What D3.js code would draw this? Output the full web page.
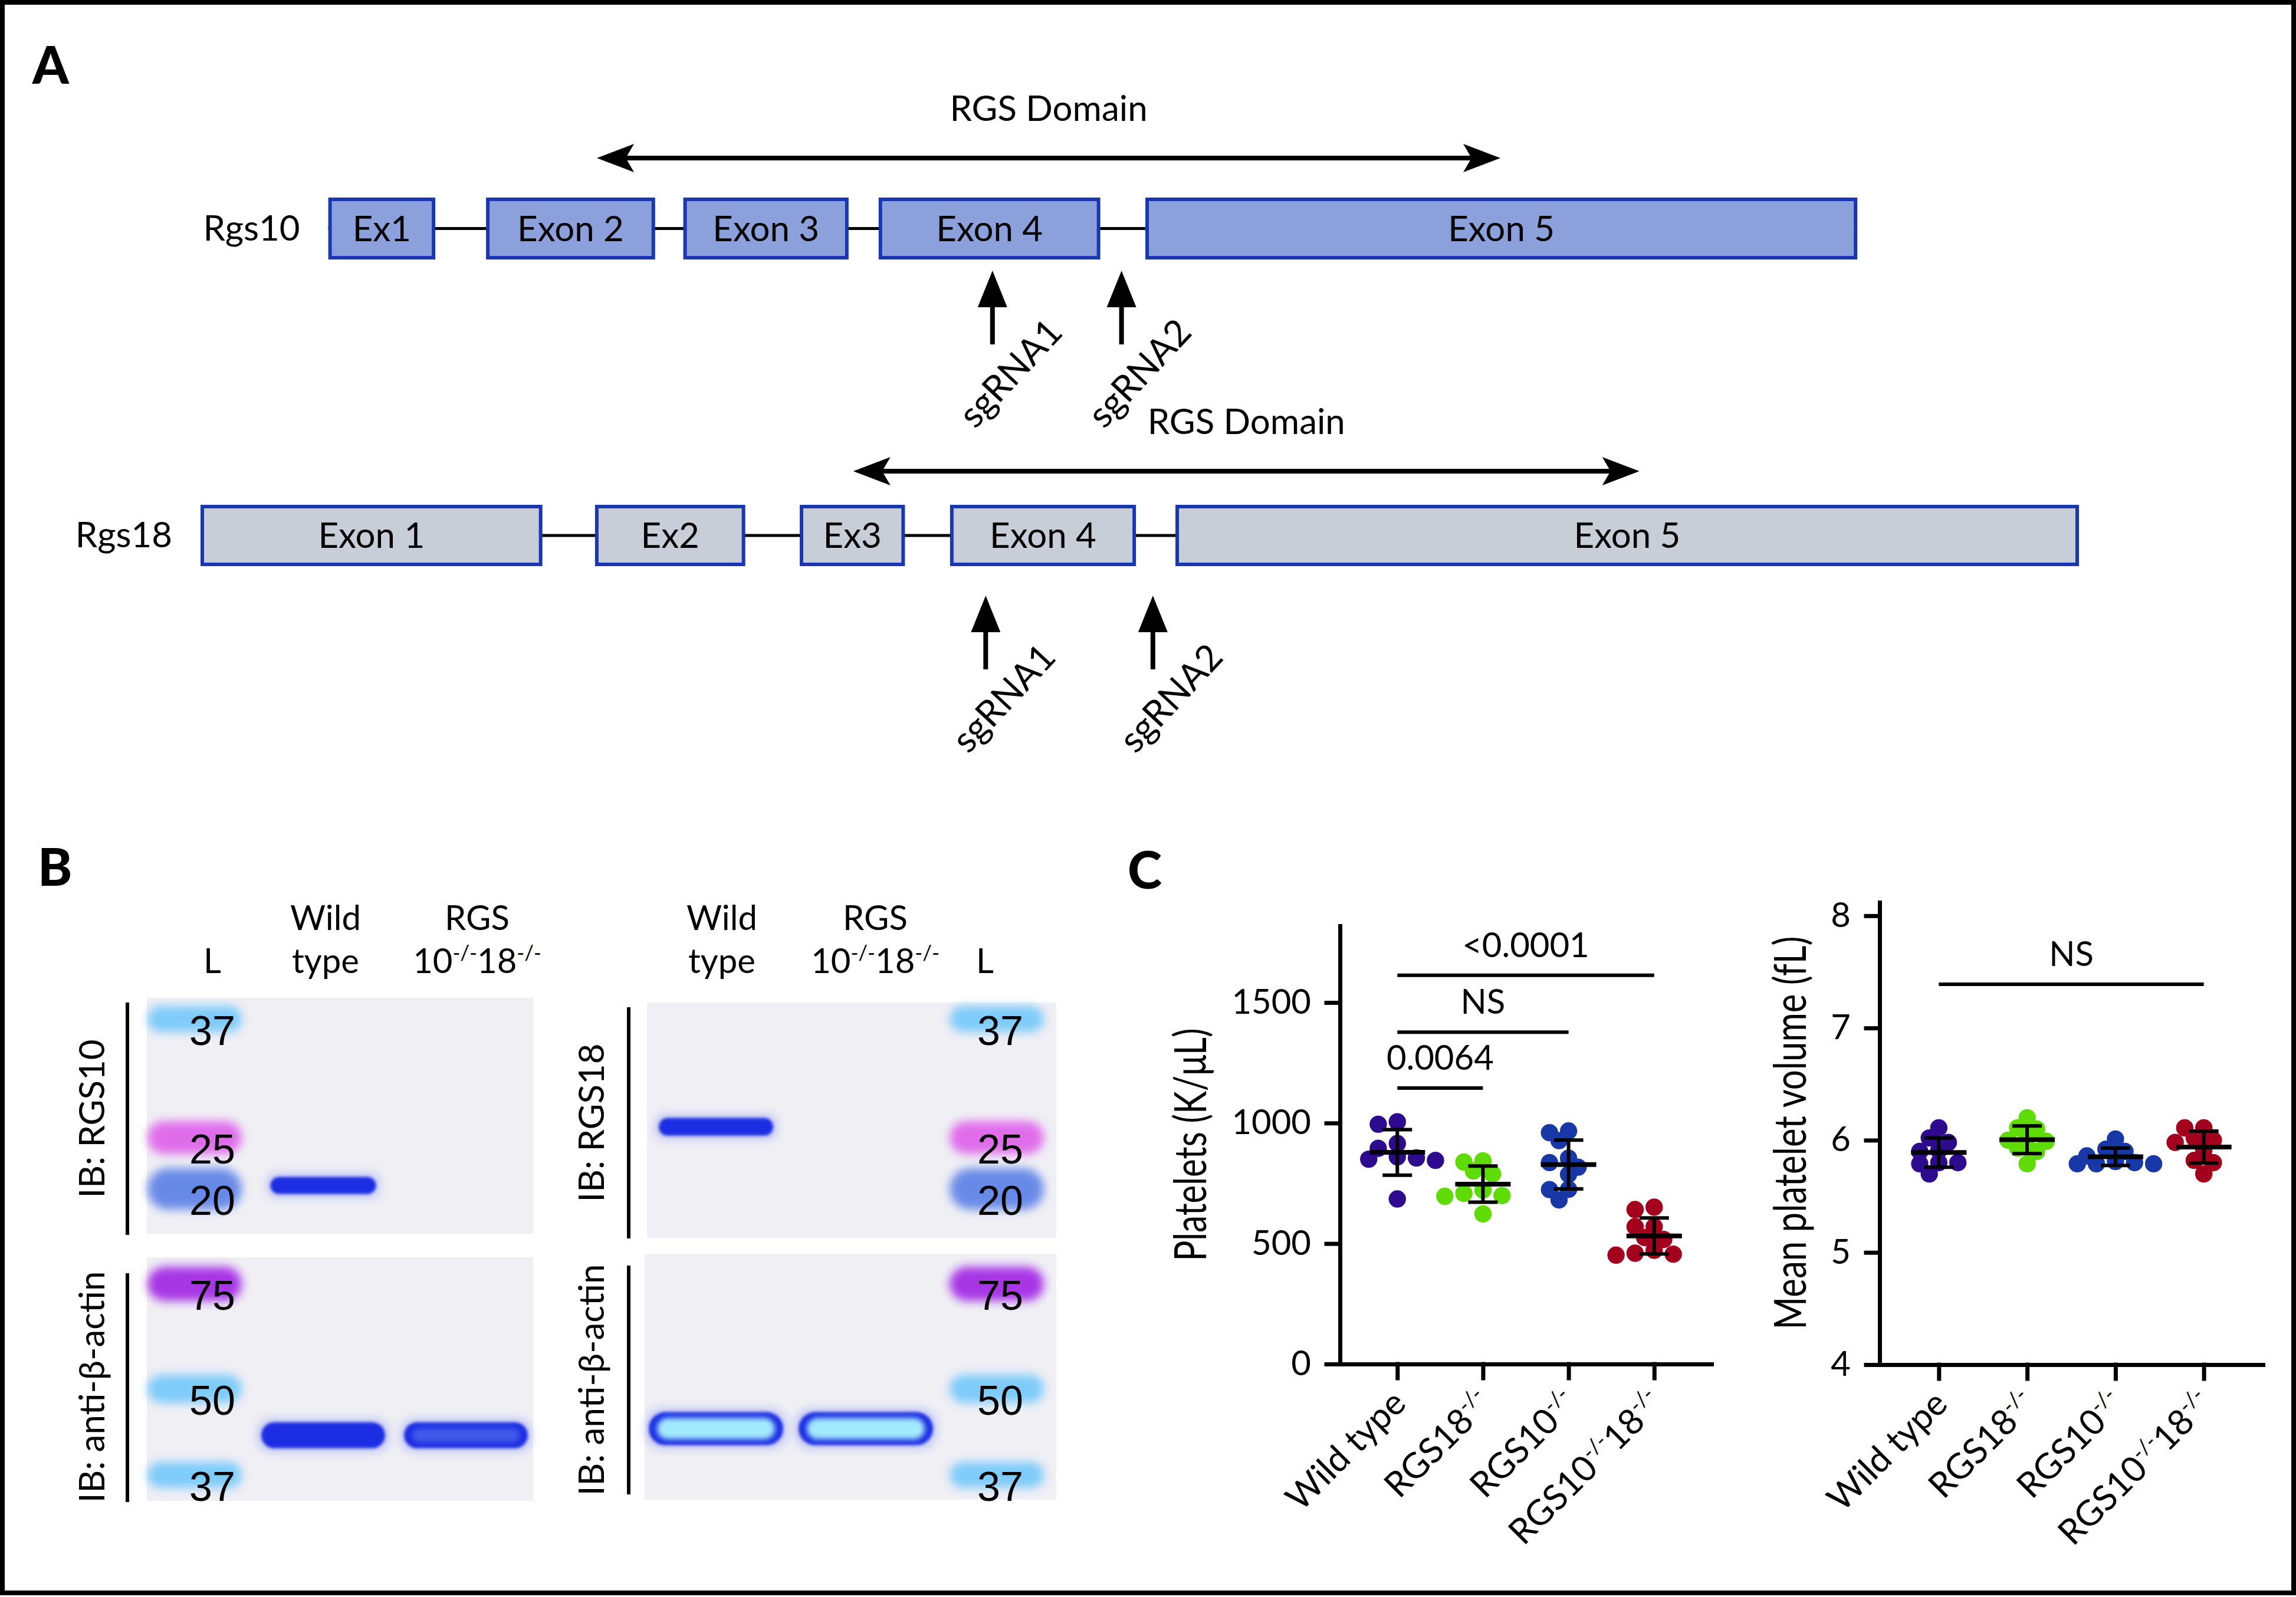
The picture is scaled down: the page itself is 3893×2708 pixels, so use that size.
<!DOCTYPE html>
<html>
<head>
<meta charset="utf-8">
<script src="https://cdn.jsdelivr.net/npm/d3@7"></script>
<style>
  body { margin: 0; background: #fff; }
  svg { display: block; }
  text { font-family: Lato, "Open Sans", sans-serif; fill: #000; }
</style>
</head>
<body>
<div id="fig"></div>
<script>
// ---------- panel A: gene schematics (schematic units 0..1000) ----------
const rgs10Exons = ["Ex1", "Exon 2", "Exon 3", "Exon 4", "Exon 5"];
const rgs10Start = [68, 152, 257, 361, 503];
const rgs10End = [125, 242, 345, 479, 882];
const rgs10Domain = [211, 692];
const rgs10Guides = [421.6, 490.3];

const rgs18Exons = ["Exon 1", "Ex2", "Ex3", "Exon 4", "Exon 5"];
const rgs18Start = [0, 210, 319, 399, 519];
const rgs18End = [182, 290, 375, 498, 1000];
const rgs18Domain = [347.5, 766];
const rgs18Guides = [418, 507];

const guideNames = ["sgRNA1", "sgRNA2"];

// ---------- panel B: western blots (kDa) ----------
const ladderTop = [37, 25, 20];
const ladderBottom = [75, 50, 37];
const lanesLeft = ["L", "Wild type", "RGS 10-/-18-/-"];
const lanesRight = ["Wild type", "RGS 10-/-18-/-", "L"];
// [lane, apparent kDa, relative signal]
const bandsRgs10 = [["Wild type", 20.3, 0.9]];
const bandsRgs18 = [["Wild type", 25.9, 1.0]];
const bandsActinLeft = [["Wild type", 42.5, 1.0], ["RGS 10-/-18-/-", 42.5, 1.25]];
const bandsActinRight = [["Wild type", 43.5, 1.6], ["RGS 10-/-18-/-", 43.5, 1.6]];

// ---------- panel C: blood counts ----------
const groups = ["Wild type", "RGS18-/-", "RGS10-/-", "RGS10-/-18-/-"];
const plateletWT = [1005, 995, 915, 895, 860, 855, 850, 845, 685];
const plateletR18 = [843, 838, 801, 789, 722, 708, 699, 696, 623];
const plateletR10 = [967, 960, 927, 854, 836, 817, 787, 725, 724, 681];
const plateletDKO = [651, 641, 570, 570, 525, 517, 472, 460, 456, 452];
const plateletTicks = [0, 500, 1000, 1500];
const plateletSig = [["<0.0001", 0, 3, 1613], ["NS", 0, 2, 1377], ["0.0064", 0, 1, 1145]];

const mpvWT = [6.11, 6.02, 5.98, 5.91, 5.90, 5.80, 5.80, 5.79, 5.70];
const mpvR18 = [6.20, 6.11, 6.10, 6.02, 6.00, 5.99, 5.93, 5.90, 5.79];
const mpvR10 = [6.01, 5.92, 5.90, 5.86, 5.81, 5.80, 5.79, 5.79, 5.79];
const mpvDKO = [6.11, 6.11, 6.02, 6.00, 5.98, 5.91, 5.82, 5.80, 5.70];
const mpvTicks = [4, 5, 6, 7, 8];
const mpvSig = [["NS", 0, 3, 7.39]];

const groupColors = ["#2e0a8e", "#5fdc05", "#1838a8", "#a2001c"];

// ---------- setup ----------
const W = 3893, H = 2708;
const svg = d3.select("#fig").append("svg")
    .attr("width", W).attr("height", H)
    .attr("viewBox", [0, 0, W, H]);

const defs = svg.append("defs");
defs.append("filter").attr("id", "soft").attr("x", "-30%").attr("y", "-80%").attr("width", "160%").attr("height", "260%")
    .append("feGaussianBlur").attr("stdDeviation", 8);
defs.append("filter").attr("id", "edge").attr("x", "-20%").attr("y", "-60%").attr("width", "140%").attr("height", "220%")
    .append("feGaussianBlur").attr("stdDeviation", 2.5);
defs.append("filter").attr("id", "core").attr("x", "-20%").attr("y", "-60%").attr("width", "140%").attr("height", "220%")
    .append("feGaussianBlur").attr("stdDeviation", 5);

svg.append("rect").attr("x", 4).attr("y", 4).attr("width", W - 8).attr("height", H - 11)
    .attr("fill", "#fff").attr("stroke", "#000").attr("stroke-width", 8);

// writes "-/-" pieces as superscripts
function supText(sel, str, size) {
  const parts = str.split(/(-\/-)/).filter(s => s.length);
  let up = false;
  parts.forEach(p => {
    const t = sel.append("tspan").text(p);
    if (p === "-/-") {
      t.attr("font-size", size * 0.6).attr("dy", up ? 0 : -size * 0.38);
      up = true;
    } else {
      t.attr("font-size", size).attr("dy", up ? size * 0.38 : 0);
      up = false;
    }
  });
}

function panelLetter(s, x, y) {
  svg.append("text").attr("x", x).attr("y", y).text(s)
      .attr("font-size", 88).attr("font-weight", 900);
}
panelLetter("A", 55, 142);
panelLetter("B", 64, 1502);
panelLetter("C", 1912, 1507);

// ---------- panel A ----------
const gx = d3.scaleLinear().domain([0, 1000]).range([340, 3525]);

function arrowHead(g, x, y, dir) {
  // barbed head, dir = -1 points left, 1 points right
  g.append("path")
      .attr("d", `M${x},${y} L${x - dir * 63},${y - 24} L${x - dir * 49},${y} L${x - dir * 63},${y + 24} Z`)
      .attr("fill", "#000");
}

function geneRow(cfg) {
  const g = svg.append("g");
  const mid = (cfg.top + cfg.bot) / 2;
  g.append("line")
      .attr("x1", gx(cfg.starts[0])).attr("x2", gx(cfg.ends[cfg.ends.length - 1]))
      .attr("y1", mid).attr("y2", mid)
      .attr("stroke", "#000").attr("stroke-width", 5);
  const ex = g.selectAll(".exon").data(cfg.names).join("g").attr("class", "exon");
  ex.append("rect")
      .attr("x", (d, i) => gx(cfg.starts[i]) + 3)
      .attr("width", (d, i) => gx(cfg.ends[i]) - gx(cfg.starts[i]) - 6)
      .attr("y", cfg.top + 3).attr("height", cfg.bot - cfg.top - 6)
      .attr("fill", cfg.fill).attr("stroke", "#1a36b0").attr("stroke-width", 6);
  ex.append("text")
      .attr("x", (d, i) => (gx(cfg.starts[i]) + gx(cfg.ends[i])) / 2)
      .attr("y", mid + 21).attr("text-anchor", "middle")
      .attr("font-size", 60).text(d => d);
  g.append("text").attr("x", gx(cfg.starts[0]) - 48).attr("y", mid + 20)
      .attr("text-anchor", "end").attr("font-size", 60).text(cfg.gene);

  // RGS domain double arrow
  const x1 = gx(cfg.domain[0]), x2 = gx(cfg.domain[1]);
  g.append("line").attr("x1", x1 + 40).attr("x2", x2 - 40).attr("y1", cfg.domY).attr("y2", cfg.domY)
      .attr("stroke", "#000").attr("stroke-width", 8);
  arrowHead(g, x1, cfg.domY, -1);
  arrowHead(g, x2, cfg.domY, 1);
  g.append("text").attr("x", (x1 + x2) / 2).attr("y", cfg.domY - 63)
      .attr("text-anchor", "middle").attr("font-size", 60).text("RGS Domain");

  // sgRNA arrows
  const tip = cfg.bot + cfg.gap, base = tip + 125;
  cfg.guides.forEach((u, i) => {
    const x = gx(u);
    g.append("line").attr("x1", x).attr("x2", x).attr("y1", tip + 50).attr("y2", base)
        .attr("stroke", "#000").attr("stroke-width", 8);
    g.append("path").attr("d", `M${x},${tip} L${x + 25},${tip + 62} L${x - 25},${tip + 62} Z`).attr("fill", "#000");
    g.append("text")
        .attr("transform", `translate(${x + 122},${base - 18}) rotate(-47)`)
        .attr("text-anchor", "end").attr("font-size", 62).text(guideNames[i]);
  });
}

geneRow({gene: "Rgs10", names: rgs10Exons, starts: rgs10Start, ends: rgs10End, domain: rgs10Domain,
  guides: rgs10Guides, top: 335, bot: 440, fill: "#8ca0dc", domY: 268, gap: 19});
geneRow({gene: "Rgs18", names: rgs18Exons, starts: rgs18Start, ends: rgs18End, domain: rgs18Domain,
  guides: rgs18Guides, top: 856, bot: 960, fill: "#c8ced8", domY: 799, gap: 50});

// ---------- panel B ----------
const kdaTop = d3.scaleLog().domain([37, 25, 20]).range([1728, 1929, 2016]);
const kdaBottom = d3.scaleLog().domain([75, 50, 37]).range([2177, 2355, 2501]);
const laneLeft = d3.scaleOrdinal().domain(lanesLeft).range([330, 548, 790]);
const laneRight = d3.scaleOrdinal().domain(lanesRight).range([1214, 1468, 1690]);
const headLeft = d3.scaleOrdinal().domain(lanesLeft).range([360, 552, 809]);
const headRight = d3.scaleOrdinal().domain(lanesRight).range([1224, 1484, 1670]);
const ladderColor = {37: "#72c8fb", 50: "#72c8fb", 25: "#de60ea", 20: "#5a80e6", 75: "#a020e4"};
const ladderHeight = {37: 44, 50: 48, 25: 56, 20: 70, 75: 58};

function headers(lanes, hx) {
  lanes.forEach(l => {
    const lines = l === "L" ? ["", "L"] : l === "Wild type" ? ["Wild", "type"] : l.split(" ");
    svg.append("text").attr("x", hx(l)).attr("y", 1577).attr("text-anchor", "middle")
        .attr("font-size", 58).text(lines[0]);
    const t = svg.append("text").attr("x", hx(l)).attr("y", 1650).attr("text-anchor", "middle");
    supText(t, lines[1], 58);
  });
}
headers(lanesLeft, headLeft);
headers(lanesRight, headRight);

function blot(cfg) {
  const g = svg.append("g");
  g.append("rect").attr("x", cfg.x0).attr("y", cfg.y0).attr("width", cfg.x1 - cfg.x0).attr("height", cfg.y1 - cfg.y0)
      .attr("fill", "#efeff4");
  g.append("line").attr("x1", cfg.lineX).attr("x2", cfg.lineX).attr("y1", cfg.lineY[0]).attr("y2", cfg.lineY[1])
      .attr("stroke", "#000").attr("stroke-width", 6);
  g.append("text").attr("transform", `translate(${cfg.labelX},${cfg.labelY}) rotate(-90)`)
      .attr("text-anchor", "middle").attr("font-size", 60).text(cfg.label);

  const lx = cfg.lane("L");
  cfg.ladder.forEach(k => {
    const y = cfg.kda(k), h = ladderHeight[k];
    g.append("rect").attr("x", lx - 80).attr("y", y - h / 2).attr("width", 160).attr("height", h)
        .attr("rx", h / 2).attr("fill", ladderColor[k]).attr("opacity", 0.9).attr("filter", "url(#soft)");
    g.append("text").attr("x", lx + cfg.numDx).attr("y", y + 44).attr("text-anchor", "middle")
        .style("font-family", "'Liberation Sans', Arial, sans-serif").attr("font-size", 70).text(k);
  });

  cfg.bands.forEach(([lane, k, s]) => {
    const cx = cfg.lane(lane), y = cfg.kda(k), w = cfg.bandW, h = cfg.bandH;
    g.append("rect").attr("x", cx - w / 2 - 6).attr("y", y - h / 2 - 6).attr("width", w + 12).attr("height", h + 12)
        .attr("rx", h / 2).attr("fill", "#6a78f2").attr("opacity", 0.35).attr("filter", "url(#soft)");
    g.append("rect").attr("x", cx - w / 2).attr("y", y - h / 2).attr("width", w).attr("height", h)
        .attr("rx", h / 2).attr("fill", "#1e2ee2").attr("filter", "url(#edge)");
    if (s > 1.1) {
      g.append("rect").attr("x", cx - w / 2 + 14).attr("y", y - h / 2 + 10).attr("width", w - 28).attr("height", h - 20)
          .attr("rx", (h - 20) / 2).attr("fill", s > 1.4 ? "#a8f2ff" : "#7a9cf4")
          .attr("opacity", Math.min(1, (s - 1) * 1.6)).attr("filter", "url(#core)");
    }
  });
}

blot({x0: 249, x1: 904, y0: 1692, y1: 2092, lineX: 216, lineY: [1700, 2094], label: "IB: RGS10",
  labelX: 177, labelY: 1897, kda: kdaTop, lane: laneLeft, ladder: ladderTop, numDx: 30,
  bands: bandsRgs10, bandW: 179, bandH: 29});
blot({x0: 249, x1: 904, y0: 2132, y1: 2545, lineX: 216, lineY: [2159, 2547], label: "IB: anti-β-actin",
  labelX: 177, labelY: 2352, kda: kdaBottom, lane: laneLeft, ladder: ladderBottom, numDx: 30,
  bands: bandsActinLeft, bandW: 210, bandH: 44});
blot({x0: 1097, x1: 1791, y0: 1700, y1: 2099, lineX: 1066, lineY: [1708, 2100], label: "IB: RGS18",
  labelX: 1024, labelY: 1904, kda: kdaTop, lane: laneRight, ladder: ladderTop, numDx: 6,
  bands: bandsRgs18, bandW: 194, bandH: 30});
blot({x0: 1093, x1: 1791, y0: 2126, y1: 2543, lineX: 1066, lineY: [2146, 2534], label: "IB: anti-β-actin",
  labelX: 1024, labelY: 2340, kda: kdaBottom, lane: laneRight, ladder: ladderBottom, numDx: 6,
  bands: bandsActinRight, bandW: 228, bandH: 56});

// ---------- panel C ----------
function swarm(values, y, r) {
  const placed = [], off = new Array(values.length);
  const order = d3.range(values.length).sort((a, b) => values[b] - values[a]);
  const minD = r * 1.35, step = r * 1.1;
  for (const i of order) {
    const yy = y(values[i]);
    for (let k = 0; k < 30; k++) {
      const dx = k === 0 ? 0 : (k % 2 ? -1 : 1) * Math.ceil(k / 2) * step;
      if (placed.every(p => Math.hypot(p.dx - dx, p.y - yy) >= minD)) {
        off[i] = dx; placed.push({dx, y: yy}); break;
      }
    }
  }
  return off;
}

function scatterPanel(cfg) {
  const g = svg.append("g");
  const x = d3.scalePoint().domain(groups).range(cfg.xRange).padding(0.67);
  const y = d3.scaleLinear().domain(cfg.yDomain).range(cfg.yRange);

  const ya = g.append("g").attr("transform", `translate(${cfg.xRange[0]},0)`)
      .call(d3.axisLeft(y).tickValues(cfg.ticks).tickFormat(d3.format("d"))
        .tickSize(23).tickSizeOuter(0).tickPadding(26));
  const xa = g.append("g").attr("transform", `translate(0,${cfg.yRange[0]})`)
      .call(d3.axisBottom(x).tickSize(24).tickSizeOuter(0).tickFormat(""));
  g.selectAll(".domain, .tick line").attr("stroke", "#000").attr("stroke-width", 7)
      .attr("stroke-linecap", "square");
  ya.selectAll("text").attr("font-size", 58).attr("font-family", "Lato, sans-serif").attr("fill", "#000");

  groups.forEach(name => {
    const t = g.append("text").attr("text-anchor", "end")
        .attr("transform", `translate(${x(name) + 18},${cfg.yRange[0] + 70}) rotate(-45)`);
    supText(t, name, 60);
  });

  g.append("text")
      .attr("transform", `translate(${cfg.labelX},${cfg.labelY}) rotate(-90)`)
      .attr("text-anchor", "middle").attr("font-size", 76)
      .attr("textLength", cfg.labelLen).attr("lengthAdjust", "spacingAndGlyphs")
      .text(cfg.label);

  const r = 14.7;
  cfg.sets.forEach((vals, gi) => {
    const cx = x(groups[gi]);
    const off = swarm(vals, y, r);
    g.append("g").selectAll("circle").data(vals).join("circle")
        .attr("cx", (d, i) => cx + off[i]).attr("cy", d => y(d)).attr("r", r)
        .attr("fill", groupColors[gi]);
    const m = d3.mean(vals), sd = d3.deviation(vals);
    const eb = g.append("g").attr("stroke", "#000");
    eb.append("line").attr("x1", cx).attr("x2", cx).attr("y1", y(m + sd)).attr("y2", y(m - sd)).attr("stroke-width", 6);
    [m + sd, m - sd].forEach(v => eb.append("line").attr("x1", cx - 25).attr("x2", cx + 25)
        .attr("y1", y(v)).attr("y2", y(v)).attr("stroke-width", 6));
    eb.append("line").attr("x1", cx - 47).attr("x2", cx + 47).attr("y1", y(m)).attr("y2", y(m)).attr("stroke-width", 8);
  });

  cfg.sig.forEach(([txt, a, b, level]) => {
    const xa1 = x(groups[a]), xb1 = x(groups[b]), yy = y(level);
    g.append("line").attr("x1", xa1).attr("x2", xb1).attr("y1", yy).attr("y2", yy)
        .attr("stroke", "#000").attr("stroke-width", 6);
    g.append("text").attr("x", (xa1 + xb1) / 2).attr("y", yy - 31).attr("text-anchor", "middle")
        .attr("font-size", 58).text(txt);
  });
}

scatterPanel({xRange: [2272, 2902], yRange: [2313, 1570], yDomain: [0, 1818], ticks: plateletTicks,
  sets: [plateletWT, plateletR18, plateletR10, plateletDKO], sig: plateletSig,
  label: "Platelets (K/μL)", labelX: 2045, labelY: 1941, labelLen: 395});
scatterPanel({xRange: [3187, 3837], yRange: [2314, 1530], yDomain: [4, 8.12], ticks: mpvTicks,
  sets: [mpvWT, mpvR18, mpvR10, mpvDKO], sig: mpvSig,
  label: "Mean platelet volume (fL)", labelX: 3062, labelY: 1921, labelLen: 667});
</script>
</body>
</html>
